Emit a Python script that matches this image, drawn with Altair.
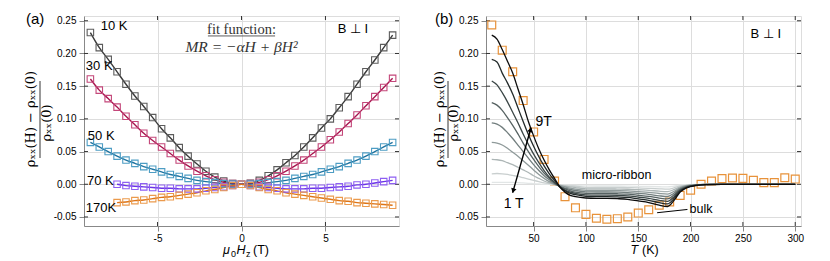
import altair as alt
import pandas as pd

# ---------------- panel (a) data ----------------
H_FULL = [-9.0, -8.47, -7.94, -7.41, -6.88, -6.35, -5.82, -5.29, -4.76, -4.24, -3.71, -3.18,
          -2.65, -2.12, -1.59, -1.06, -0.53, 0.0, 0.53, 1.06, 1.59, 2.12, 2.65, 3.18, 3.71,
          4.24, 4.76, 5.29, 5.82, 6.35, 6.88, 7.41, 7.94, 8.47, 9.0]
H_PART = [-7.41, -6.88, -6.35, -5.82, -5.29, -4.76, -4.24, -3.71, -3.18,
          -2.65, -2.12, -1.59, -1.06, -0.53, 0.0, 0.53, 1.06, 1.59, 2.12, 2.65, 3.18, 3.71,
          4.24, 4.76, 5.29, 5.82, 6.35, 6.88, 7.41, 7.94, 8.47, 9.0]
MR_10K = [0.232, 0.209, 0.191, 0.172, 0.153, 0.135, 0.119, 0.102, 0.085, 0.071, 0.056, 0.043,
          0.031, 0.020, 0.011, 0.005, 0.001, 0.000, 0.0015, 0.006, 0.013, 0.022, 0.033, 0.044,
          0.057, 0.071, 0.086, 0.100, 0.117, 0.134, 0.153, 0.172, 0.190, 0.209, 0.228]
MR_30K = [0.161, 0.144, 0.131, 0.118, 0.104, 0.091, 0.078, 0.067, 0.057, 0.047, 0.037, 0.028,
          0.020, 0.013, 0.007, 0.003, 0.001, 0.000, 0.001, 0.003, 0.007, 0.013, 0.020, 0.028,
          0.037, 0.047, 0.057, 0.068, 0.080, 0.093, 0.106, 0.120, 0.134, 0.148, 0.162]
MR_50K = [0.064, 0.057, 0.050, 0.043, 0.037, 0.032, 0.027, 0.023, 0.019, 0.015, 0.012, 0.009,
          0.006, 0.004, 0.0025, 0.001, 0.0003, 0.0, 0.0003, 0.001, 0.0025, 0.004, 0.006, 0.009,
          0.012, 0.015, 0.019, 0.023, 0.027, 0.032, 0.037, 0.043, 0.050, 0.057, 0.064]
MR_70K = [0.000, -0.002, -0.003, -0.004, -0.005, -0.006, -0.006, -0.007, -0.007, -0.007, -0.006,
          -0.005, -0.004, -0.002, 0.0, -0.002, -0.004, -0.005, -0.006, -0.007, -0.007, -0.007,
          -0.006, -0.006, -0.005, -0.004, -0.003, -0.001, 0.000, 0.002, 0.004, 0.006]
MR_170K = [-0.028, -0.027, -0.025, -0.024, -0.022, -0.020, -0.019, -0.017, -0.015, -0.013, -0.010,
           -0.008, -0.005, -0.002, 0.0, -0.002, -0.005, -0.008, -0.010, -0.013, -0.015, -0.017,
           -0.019, -0.021, -0.023, -0.025, -0.026, -0.028, -0.029, -0.030, -0.031, -0.032]
SERIES_A = ["10 K", "30 K", "50 K", "70 K", "170K"]
LABEL_POS_A = {"10 K": (-8.38, 0.242), "30 K": (-9.27, 0.181), "50 K": (-9.15, 0.074),
               "70 K": (-9.2, 0.005), "170K": (-9.27, -0.036)}

# ---------------- panel (b) data ----------------
T_CURVE = [10, 15, 20, 25, 30, 35, 40, 45, 50, 55, 60, 65, 70, 75, 80, 85, 90, 100, 110, 120,
           130, 140, 150, 160, 170, 178, 184, 190, 197, 205, 215, 230, 260, 300]
MR_9T = [0.228, 0.222, 0.206, 0.188, 0.170, 0.146, 0.122, 0.096, 0.074, 0.054, 0.037, 0.022, 0.009,
         -0.004, -0.012, -0.017, -0.019, -0.021, -0.0215, -0.0215, -0.022, -0.023, -0.0255, -0.028,
         -0.032, -0.034, -0.025, -0.012, -0.005, -0.002, -0.0005, 0, 0, 0]
MR_8T = [0.191, 0.187, 0.170, 0.155, 0.138, 0.117, 0.096, 0.076, 0.058, 0.042, 0.028, 0.016, 0.006,
         -0.004, -0.010, -0.014, -0.016, -0.0185, -0.019, -0.019, -0.0194, -0.020, -0.0224, -0.0246,
         -0.028, -0.030, -0.022, -0.0106, -0.0044, -0.0018, -0.0004, 0, 0, 0]
MR_7T = [0.158, 0.152, 0.140, 0.126, 0.110, 0.094, 0.077, 0.061, 0.046, 0.033, 0.021, 0.011, 0.003,
         -0.004, -0.009, -0.012, -0.014, -0.0162, -0.0166, -0.0166, -0.0169, -0.0177, -0.0196, -0.0216,
         -0.0246, -0.0262, -0.0193, -0.0092, -0.0038, -0.0015, -0.0004, 0, 0, 0]
MR_6T = [0.125, 0.121, 0.113, 0.102, 0.090, 0.077, 0.063, 0.050, 0.038, 0.027, 0.017, 0.009, 0.002,
         -0.003, -0.007, -0.010, -0.012, -0.0139, -0.0142, -0.0142, -0.0145, -0.0152, -0.0168, -0.0185,
         -0.0211, -0.0224, -0.0165, -0.0079, -0.0033, -0.0013, -0.0003, 0, 0, 0]
MR_5T = [0.094, 0.092, 0.087, 0.079, 0.070, 0.060, 0.050, 0.040, 0.030, 0.021, 0.013, 0.007, 0.001,
         -0.003, -0.006, -0.008, -0.0095, -0.0116, -0.0118, -0.0118, -0.0121, -0.0127, -0.014, -0.0154,
         -0.0176, -0.0187, -0.0138, -0.0066, -0.0028, -0.0011, -0.0003, 0, 0, 0]
MR_4T = [0.064, 0.063, 0.060, 0.055, 0.049, 0.043, 0.036, 0.029, 0.022, 0.015, 0.009, 0.004, 0.000,
         -0.002, -0.004, -0.006, -0.0075, -0.0092, -0.0095, -0.0095, -0.0097, -0.0101, -0.0112, -0.0123,
         -0.0141, -0.015, -0.011, -0.0053, -0.0022, -0.0009, -0.0002, 0, 0, 0]
MR_3T = [0.038, 0.0375, 0.036, 0.033, 0.030, 0.026, 0.022, 0.018, 0.013, 0.009, 0.005, 0.002, 0.000,
         -0.0015, -0.003, -0.004, -0.005, -0.0069, -0.0071, -0.0071, -0.0073, -0.0076, -0.0084, -0.0092,
         -0.0106, -0.0112, -0.0083, -0.004, -0.0017, -0.0007, -0.0002, 0, 0, 0]
MR_2T = [0.016, 0.0165, 0.016, 0.015, 0.0135, 0.012, 0.010, 0.008, 0.006, 0.004, 0.002, 0.001, 0.000,
         -0.001, -0.002, -0.0025, -0.003, -0.0046, -0.0047, -0.0047, -0.0048, -0.0051, -0.0056, -0.0062,
         -0.007, -0.0075, -0.0055, -0.0026, -0.0011, -0.0004, -0.0001, 0, 0, 0]
MR_1T = [0.003, 0.003, 0.003, 0.003, 0.0028, 0.0025, 0.002, 0.0015, 0.001, 0.0005, 0.0, -0.0003,
         -0.0006, -0.001, -0.0013, -0.0016, -0.0019, -0.0025, -0.0026, -0.0026, -0.0026, -0.0028,
         -0.0031, -0.0034, -0.0038, -0.0041, -0.003, -0.0014, -0.0006, -0.0002, 0, 0, 0, 0]
FIELDS = ["1T", "2T", "3T", "4T", "5T", "6T", "7T", "8T", "9T"]
T_BULK = [10, 20, 30, 40, 50, 60, 70, 80, 90, 100, 110, 120, 130, 140, 150, 160, 170, 180, 190,
          200, 210, 220, 230, 240, 250, 260, 270, 280, 290, 300]
MR_BULK = [0.2436, 0.205, 0.172, 0.128, 0.080, 0.038, 0.005, -0.019, -0.036, -0.046, -0.052,
           -0.0535, -0.0526, -0.050, -0.044, -0.039, -0.032, -0.027, -0.017, -0.009, 0.000, 0.005,
           0.0086, 0.0096, 0.009, 0.006, 0.0025, 0.0025, 0.010, 0.008]

XTICKS_A = [-5, 0, 5]
XTICKS_B = [50, 100, 150, 200, 250, 300]
YTICKS = [-0.05, 0.0, 0.05, 0.10, 0.15, 0.20, 0.25]

# ---------------- styles ----------------
W, HT = 315, 210
LINE_RANGE = ["#3a3a3a", "#a8164f", "#1f74a0", "#6a32e6", "#dd7416"]
SQ_RANGE = ["#5c5c5c", "#c4477a", "#4d9dc4", "#8d5ef2", "#eb9a4c"]
GRAY_RANGE = ["#e2e6e6", "#c9cfcf", "#adb6b6", "#8f9a9a", "#727e7e", "#566262", "#3b4646",
              "#222a2a", "#0c0c0c"]
FONT = "Liberation Sans"
SERIF = "Liberation Serif"
MINUS = "\u2212"

dummy = pd.DataFrame({"a": [0]})

# ---------------- build tables ----------------
rows = []
for name, hs, vs in [("10 K", H_FULL, MR_10K), ("30 K", H_FULL, MR_30K), ("50 K", H_FULL, MR_50K),
                     ("70 K", H_PART, MR_70K), ("170K", H_PART, MR_170K)]:
    for h, v in zip(hs, vs):
        rows.append({"H": h, "MR": v, "series": name})
df_a = pd.DataFrame(rows)
df_lab_a = pd.DataFrame([{"x": LABEL_POS_A[s][0], "y": LABEL_POS_A[s][1], "t": s} for s in SERIES_A])

rows = []
for name, vs in zip(FIELDS, [MR_1T, MR_2T, MR_3T, MR_4T, MR_5T, MR_6T, MR_7T, MR_8T, MR_9T]):
    for t, v in zip(T_CURVE, vs):
        rows.append({"T": t, "MR": v, "field": name, "k": FIELDS.index(name)})
df_curves = pd.DataFrame(rows)
df_bulk = pd.DataFrame({"T": T_BULK, "MR": MR_BULK})

# ---------------- scales / axes ----------------
xa = alt.Scale(domain=[-9.38, 9.38], nice=False, zero=False)
xb = alt.Scale(domain=[4.5, 305.5], nice=False, zero=False)
ys = alt.Scale(domain=[-0.0638, 0.2573], nice=False, zero=False)

lab_expr_int = "replace(format(datum.value, 'd'), '" + MINUS + "', '-')"
lab_expr_y = "replace(format(datum.value, '.2f'), '" + MINUS + "', '-')"
ax_xa = alt.Axis(values=XTICKS_A, title=None, labelExpr=lab_expr_int, labelPadding=2)
ax_xb = alt.Axis(values=XTICKS_B, title=None, labelExpr=lab_expr_int, labelPadding=2)
ax_y = alt.Axis(values=YTICKS, title=None, labelExpr=lab_expr_y, labelPadding=3)


def X(field, scale, axis):
    return alt.X(field, scale=scale, axis=axis)


def Y(field):
    return alt.Y(field, scale=ys, axis=ax_y)


def inward_ticks(xticks, xscale, xaxis):
    dfx = pd.DataFrame({"v": xticks})
    dfy = pd.DataFrame({"v": YTICKS})
    base_x = alt.Chart(dfx).mark_rule(color="#333333", strokeWidth=1)
    base_y = alt.Chart(dfy).mark_rule(color="#333333", strokeWidth=1)
    return [
        base_x.encode(x=X("v:Q", xscale, xaxis), y=alt.value(0), y2=alt.value(4)),
        base_x.encode(x=X("v:Q", xscale, xaxis), y=alt.value(HT - 4), y2=alt.value(HT)),
        base_y.encode(y=Y("v:Q"), x=alt.value(0), x2=alt.value(4)),
        base_y.encode(y=Y("v:Q"), x=alt.value(W - 4), x2=alt.value(W)),
    ]


def ytitle(xnum, xbar, xden):
    c = alt.Chart(dummy)
    return [
        c.mark_text(angle=270, text="ρₓₓ(H) − ρₓₓ(0)", font="DejaVu Serif", fontSize=13,
                    align="center", baseline="middle", color="black").encode(
            x=alt.value(xnum), y=alt.value(103)),
        c.mark_rule(color="black", strokeWidth=0.8).encode(
            x=alt.value(xbar), x2=alt.value(xbar), y=alt.value(65), y2=alt.value(142)),
        c.mark_text(angle=270, text="ρₓₓ(0)", font="DejaVu Serif", fontSize=13,
                    align="center", baseline="middle", color="black").encode(
            x=alt.value(xden), y=alt.value(107)),
    ]


def anchor(xoff):
    return alt.Chart(dummy).mark_rule(strokeWidth=0.01, opacity=0).encode(
        x=alt.value(xoff), x2=alt.value(xoff + 1), y=alt.value(-7), y2=alt.value(-6))


c0 = alt.Chart(dummy)

# ---------------- panel (a) ----------------
lines_a = alt.Chart(df_a).mark_line(strokeWidth=1.4, interpolate="monotone").encode(
    x=X("H:Q", xa, ax_xa), y=Y("MR:Q"),
    color=alt.Color("series:N", scale=alt.Scale(domain=SERIES_A, range=LINE_RANGE), legend=None),
    detail="series:N")
pts_a = alt.Chart(df_a).mark_point(shape="square", filled=False, size=42, strokeWidth=1.1,
                                   opacity=1).encode(
    x=X("H:Q", xa, ax_xa), y=Y("MR:Q"),
    color=alt.Color("series:N", scale=alt.Scale(domain=SERIES_A, range=SQ_RANGE), legend=None))
labs_a = alt.Chart(df_lab_a).mark_text(align="left", baseline="middle", fontSize=13,
                                       font=FONT, color="black").encode(
    x=X("x:Q", xa, ax_xa), y=Y("y:Q"), text="t:N")
fit_txt = alt.Chart(pd.DataFrame({"x": [0.0], "y": [0.2360]})).mark_text(
    text="fit function:", font=SERIF, fontSize=14.5, color="#333333", baseline="middle").encode(
    x=X("x:Q", xa, ax_xa), y=Y("y:Q"))
fit_ul = alt.Chart(pd.DataFrame({"x": [-2.0], "x2": [2.0], "y": [0.2268]})).mark_rule(
    color="#333333", strokeWidth=0.8).encode(x=X("x:Q", xa, ax_xa), x2="x2:Q", y=Y("y:Q"))
fit_eq = alt.Chart(pd.DataFrame({"x": [0.0], "y": [0.2105]})).mark_text(
    text="MR = −αH + βH²", font=SERIF, fontStyle="italic", fontSize=15.5, color="#333333",
    baseline="middle").encode(x=X("x:Q", xa, ax_xa), y=Y("y:Q"))
bperp_a = alt.Chart(pd.DataFrame({"x": [5.73], "y": [0.237]})).mark_text(
    text="B ⊥ I", font=FONT, fontSize=13, align="left", baseline="middle", color="black").encode(
    x=X("x:Q", xa, ax_xa), y=Y("y:Q"))

xt_a = [
    c0.mark_text(text="μ", font=FONT, fontSize=12.5, fontStyle="italic", align="left",
                 baseline="alphabetic", color="black").encode(x=alt.value(139), y=alt.value(237.5)),
    c0.mark_text(text="0", font=FONT, fontSize=9, align="left", baseline="alphabetic",
                 color="black").encode(x=alt.value(147), y=alt.value(240.5)),
    c0.mark_text(text="H", font=FONT, fontSize=12.5, fontStyle="italic", align="left",
                 baseline="alphabetic", color="black").encode(x=alt.value(152.5), y=alt.value(237.5)),
    c0.mark_text(text="z", font=FONT, fontSize=9, align="left", baseline="alphabetic",
                 color="black").encode(x=alt.value(162), y=alt.value(240.5)),
    c0.mark_text(text="(T)", font=FONT, fontSize=12.5, align="left", baseline="alphabetic",
                 color="black").encode(x=alt.value(169), y=alt.value(237.5)),
    c0.mark_text(text="(a)", font=FONT, fontSize=15, align="left", baseline="middle",
                 color="black").encode(x=alt.value(-58), y=alt.value(3)),
]

panel_a = alt.layer(
    anchor(-75), *inward_ticks(XTICKS_A, xa, ax_xa), lines_a, pts_a, labs_a, fit_txt, fit_ul,
    fit_eq, bperp_a, *xt_a, *ytitle(-53, -44, -37.5)
).resolve_scale(color="independent").properties(width=W, height=HT)

# ---------------- panel (b) ----------------
bulk = alt.Chart(df_bulk).mark_point(shape="square", filled=False, size=62, strokeWidth=1.2,
                                     color="#e8923a", opacity=1).encode(
    x=X("T:Q", xb, ax_xb), y=Y("MR:Q"))
curves = alt.Chart(df_curves).mark_line(strokeWidth=1.3, interpolate="monotone").encode(
    x=X("T:Q", xb, ax_xb), y=Y("MR:Q"),
    color=alt.Color("field:N", scale=alt.Scale(domain=FIELDS, range=GRAY_RANGE), legend=None),
    order=alt.Order("k:Q"), detail="field:N")
arrow_df = pd.DataFrame({"T": [30.0, 47.5], "MR": [-0.0128, 0.0865]})
arrow_line = alt.Chart(arrow_df).mark_line(color="black", strokeWidth=1.4).encode(
    x=X("T:Q", xb, ax_xb), y=Y("MR:Q"))
head_top = alt.Chart(pd.DataFrame({"T": [47.0], "MR": [0.0835]})).mark_point(
    shape="triangle-up", filled=True, size=30, angle=16, color="black", opacity=1).encode(
    x=X("T:Q", xb, ax_xb), y=Y("MR:Q"))
head_bot = alt.Chart(pd.DataFrame({"T": [30.5], "MR": [-0.0098]})).mark_point(
    shape="triangle-up", filled=True, size=30, angle=196, color="black", opacity=1).encode(
    x=X("T:Q", xb, ax_xb), y=Y("MR:Q"))
bulk_ptr = alt.Chart(pd.DataFrame({"T": [168.0], "T2": [197.0], "MR": [-0.0435], "MR2": [-0.0385]})).mark_rule(
    color="black", strokeWidth=1).encode(x=X("T:Q", xb, ax_xb), x2="T2:Q", y=Y("MR:Q"), y2="MR2:Q")

txt_center = alt.Chart(pd.DataFrame({
    "T": [59.5, 30.9, 129.3], "MR": [0.095, -0.030, 0.0140],
    "t": ["9T", "1 T", "micro-ribbon"], "fs": [14, 14, 12.5]})).mark_text(
    baseline="middle", align="center", font=FONT, color="black").encode(
    x=X("T:Q", xb, ax_xb), y=Y("MR:Q"), text="t:N", size=alt.Size("fs:Q", scale=None, legend=None))
txt_left = alt.Chart(pd.DataFrame({
    "T": [199.0, 257.3], "MR": [-0.0378, 0.2305], "t": ["bulk", "B ⊥ I"], "fs": [12.5, 13]})).mark_text(
    baseline="middle", align="left", font=FONT, color="black").encode(
    x=X("T:Q", xb, ax_xb), y=Y("MR:Q"), text="t:N", size=alt.Size("fs:Q", scale=None, legend=None))

xt_b = [
    c0.mark_text(text="T", font=FONT, fontSize=12.5, fontStyle="italic", align="left",
                 baseline="alphabetic", color="black").encode(x=alt.value(144.5), y=alt.value(237.5)),
    c0.mark_text(text="(K)", font=FONT, fontSize=12.5, align="left", baseline="alphabetic",
                 color="black").encode(x=alt.value(156), y=alt.value(237.5)),
    c0.mark_text(text="(b)", font=FONT, fontSize=15, align="left", baseline="middle",
                 color="black").encode(x=alt.value(-51), y=alt.value(3)),
]

panel_b = alt.layer(
    anchor(-85), *inward_ticks(XTICKS_B, xb, ax_xb), bulk, curves, arrow_line, head_top, head_bot,
    bulk_ptr, txt_center, txt_left, *xt_b, *ytitle(-46, -38, -32)
).properties(width=W, height=HT)

chart = alt.hconcat(panel_a, panel_b, spacing=0).properties(
    padding={"left": 0, "top": 0, "right": 0, "bottom": 0}
).configure_view(stroke="#333333", strokeWidth=1.4).configure_axis(
    labelFont=FONT, labelFontSize=12.5, labelColor="black", ticks=False, tickSize=0,
    domain=False, grid=False
).configure(font=FONT)

chart.save("out.html", embed_options={"renderer": "svg", "actions": False})
